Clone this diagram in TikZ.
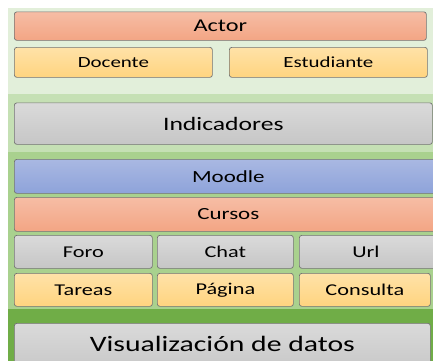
\documentclass[tikz,border=0pt]{standalone}
\usepackage{fontspec}
\setmainfont[FakeStretch=1.35]{Carlito}
\begin{document}
\begin{tikzpicture}[x=1pt,y=-1pt,
  box/.style={draw=black!55, line width=0.7pt, rounded corners=2.5pt, shading=axis, shading angle=0,
    anchor=north west, inner sep=0pt, text=black},
  salmon/.style={box, top color=salmonT, bottom color=salmonB},
  yellowbox/.style={box, top color=yelT, bottom color=yelB},
  greybox/.style={box, top color=greyT, bottom color=greyB},
  bluebox/.style={box, top color=blueT, bottom color=blueB}]
\definecolor{salmonT}{HTML}{F6BDA5}
\definecolor{salmonB}{HTML}{F3A584}
\definecolor{yelT}{HTML}{FFE2A8}
\definecolor{yelB}{HTML}{FFD47F}
\definecolor{greyT}{HTML}{DADADA}
\definecolor{greyB}{HTML}{C6C6C6}
\definecolor{blueT}{HTML}{A9B8E2}
\definecolor{blueB}{HTML}{8EA3DA}
\definecolor{bandA}{HTML}{E2EFDA}
\definecolor{bandB}{HTML}{C5E0B4}
\definecolor{bandC}{HTML}{A9D18E}
\definecolor{bandD}{HTML}{70AD47}
\clip (0,0) rectangle (433,360);
\fill[white] (0,0) rectangle (433,360);
\fill[bandA] (8,8) rectangle (440,94);
\fill[bandB] (8,94) rectangle (440,152);
\fill[bandC] (8,152) rectangle (440,309);
\fill[bandD] (8,309) rectangle (440,370);
% Actor section
\node[salmon, minimum width=412, minimum height=28.5, font=\fontsize{18}{20}\selectfont] (actor) at (14,11.5) {Actor};
\node[yellowbox, minimum width=198, minimum height=30, font=\fontsize{15.5}{17}\selectfont] (docente) at (14,47) {Docente};
\node[yellowbox, minimum width=198, minimum height=30, font=\fontsize{15.5}{17}\selectfont] (estudiante) at (229,47) {Estudiante};
% Indicadores
\node[greybox, minimum width=418, minimum height=41.5, font=\fontsize{19}{21}\selectfont] (ind) at (14,102.5) {Indicadores};
% Moodle section
\node[bluebox, minimum width=440, minimum height=34, font=\fontsize{17}{19}\selectfont] (moodle) at (14,159) {\hspace*{-12pt}Moodle};
\node[salmon, minimum width=440, minimum height=34, font=\fontsize{17}{19}\selectfont] (cursos) at (14,197) {\hspace*{-12pt}Cursos};
\node[greybox, minimum width=138, minimum height=33, font=\fontsize{16.5}{18}\selectfont] (foro) at (14,235) {Foro};
\node[greybox, minimum width=136, minimum height=33, font=\fontsize{16.5}{18}\selectfont] (chat) at (157,235) {Chat};
\node[greybox, minimum width=141, minimum height=33, font=\fontsize{16.5}{18}\selectfont] (url) at (299,235) {\hspace*{-8pt}Url};
\node[yellowbox, minimum width=138, minimum height=33, font=\fontsize{16.5}{18}\selectfont] (tareas) at (14,273) {Tareas};
\node[yellowbox, minimum width=136, minimum height=33, font=\fontsize{16.5}{18}\selectfont] (pagina) at (157,273) {Página};
\node[yellowbox, minimum width=131, minimum height=33, font=\fontsize{16.5}{18}\selectfont] (consulta) at (299,273) {Consulta};
% Visualizacion
\node[greybox, minimum width=416, minimum height=50, font=\fontsize{22}{24}\selectfont, text depth=0pt] (vis) at (14,323) {\raisebox{9pt}{Visualización de datos}};
\end{tikzpicture}
\end{document}
